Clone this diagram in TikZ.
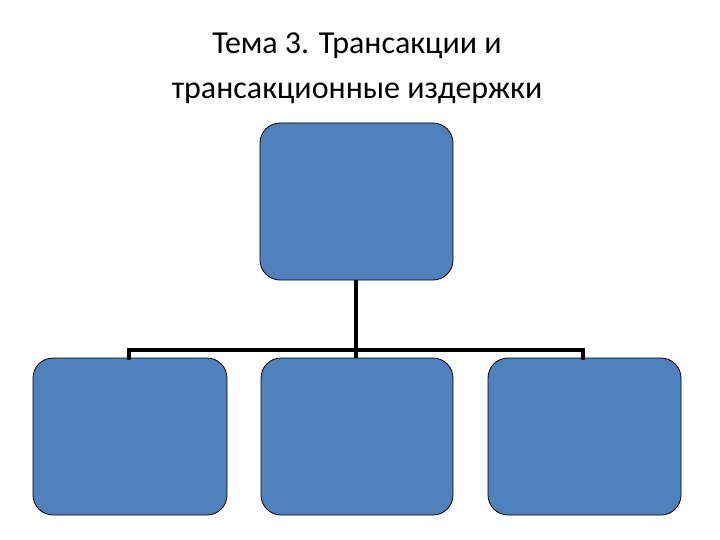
\documentclass[tikz,border=0pt]{standalone}
\usepackage{fontspec}
\setmainfont{Carlito}
\begin{document}
\begin{tikzpicture}[x=1pt,y=-1pt,
 box/.style={draw=black,line width=0.8pt,fill=boxblue,rounded corners=20pt},
 conn/.style={line width=4pt}]
\definecolor{boxblue}{HTML}{4F81BD}
\useasboundingbox (0,0) rectangle (720,540);
\node[align=center,font=\fontsize{32}{45}\selectfont] (title) at (357,68) {Тема 3. Трансакции и\\трансакционные издержки};
\draw[box] (260,123) rectangle (453,280); \coordinate (top) at (356,280);
\draw[box] (33,358) rectangle (227,515); \coordinate (b1) at (129,358);
\draw[box] (261,358) rectangle (453,515); \coordinate (b2) at (356,358);
\draw[box] (488,358) rectangle (681,515); \coordinate (b3) at (583,358);
\draw[conn] (top) -- (356,350);
\draw[conn,line cap=rect] (b1) -- (129,350) -- (583,350) -- (b3);
\draw[conn] (356,350) -- (b2);
\end{tikzpicture}
\end{document}
